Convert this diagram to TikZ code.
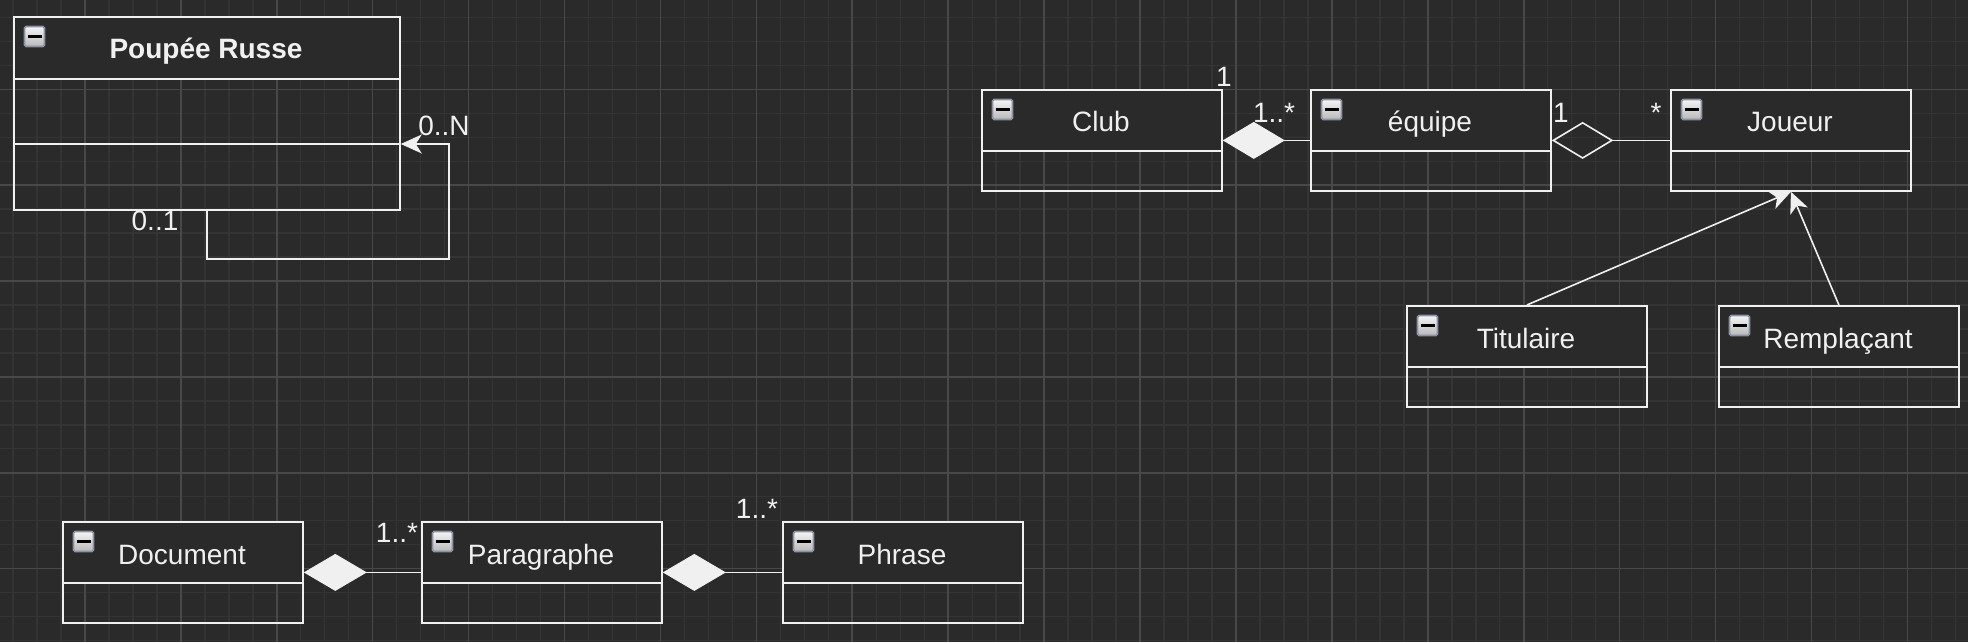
\documentclass[tikz,border=0pt]{standalone}
\usepackage{fontspec}
\setmainfont{Liberation Sans}
\usetikzlibrary{arrows.meta}
\definecolor{canvas}{HTML}{2A2A2A}
\definecolor{gridminor}{HTML}{343434}
\definecolor{gridmajor}{HTML}{484848}
\definecolor{ink}{HTML}{F0F0F0}
\definecolor{iconedge}{HTML}{8C92A6}
\tikzset{
    classbox/.style={draw=ink, line width=0.9pt, inner sep=0pt, anchor=north west},
    classtitle/.style={text=ink, anchor=base, inner sep=0pt, font=\fontsize{14pt}{16pt}\selectfont},
    collapse/.style={draw=iconedge, line width=0.8pt, rounded corners=0.8pt,
        top color=white!92!gray, bottom color=gray!55, minimum size=10pt, inner sep=0pt},
    mult/.style={text=ink, anchor=base, inner sep=0pt, font=\fontsize{14pt}{16pt}\selectfont},
    assoc/.style={draw=ink, line width=0.8pt},
    pics/uml class/.style n args={4}{
        code={
            \fill[canvas] (0,0) rectangle (#2,62.5);
            \node[classbox, minimum width=#2*0.5pt, minimum height=#3*0.5pt] (-box) at (0,0) {};
            \foreach \d in {#4}
                \draw[ink, line width=0.9pt] (0,\d) -- (#2,\d);
            \node[classtitle] (-title) at (#2/2,43) {#1};
            \node[collapse] (-icon) at (21.5,20.5) {\textcolor{black}{\rule[-0.75pt]{7pt}{1.5pt}}};
        }},
}

\begin{document}
\begin{tikzpicture}[x=0.5pt, y=-0.5pt]

    \def\gridw{1968}
    \def\gridh{642}

    \useasboundingbox (0,0) rectangle (\gridw,\gridh);
    \fill[canvas] (0,0) rectangle (\gridw,\gridh);

    \begin{scope}
        \clip (0,0) rectangle (\gridw,\gridh);
        \foreach \i in {-1,...,82}
            \draw[gridminor, line width=0.7pt] (13+23.98*\i,0) -- ++(0,\gridh);
        \foreach \j in {-1,...,27}
            \draw[gridminor, line width=0.7pt] (0,17.5+23.96*\j) -- ++(\gridw,0);
        \foreach \i in {-1,...,20}
            \draw[gridmajor, line width=0.8pt] (84.9+95.92*\i,0) -- ++(0,\gridh);
        \foreach \j in {-1,...,6}
            \draw[gridmajor, line width=0.8pt] (0,89.4+95.84*\j) -- ++(\gridw,0);
    \end{scope}

    \pic (poupee) at (13,16) {uml class={\bfseries Poupée Russe}{386}{193}{63,128}};

    \pic (club) at (981,89) {uml class={Club}{240}{101}{62}};
    \pic (equipe) at (1310,89) {uml class={équipe}{240}{101}{62}};
    \pic (joueur) at (1670,89) {uml class={Joueur}{240}{101}{62}};
    \pic (titulaire) at (1406,305) {uml class={Titulaire}{240}{101}{62}};
    \pic (remplacant) at (1718,305) {uml class={Remplaçant}{240}{101}{62}};

    \pic (document) at (62,521) {uml class={Document}{240}{101}{62}};
    \pic (paragraphe) at (421,521) {uml class={Paragraphe}{240}{101}{62}};
    \pic (phrase) at (782,521) {uml class={Phrase}{240}{101}{62}};

    \coordinate (poupee-in) at ([yshift=-64pt]poupee-box.north east);

    \begin{scope}[mult]
        \node (m-loop-n) at (444,135) {0..N};
        \node (m-loop-1) at (155,230.7) {0..1};
        \node (m-club) at (1224,86.7) {1};
        \node (m-equipe-in) at (1274,123) {1..*};
        \node (m-equipe-out) at (1561,122) {1};
        \node (m-joueur) at (1656,122) {*};
        \node (m-paragraphe) at (397,542.7) {1..*};
        \node (m-phrase) at (757,518.3) {1..*};
    \end{scope}

    \draw[assoc, -{Stealth[length=10.5pt, width=9.5pt, inset=3pt]}] (poupee-box.south) -- ++(0,48) -| ([xshift=24pt]poupee-in) -- (poupee-in);
    \draw[assoc, {Diamond[length=31pt, width=18.5pt]}-] (club-box.east) -- (equipe-box.west);
    \draw[assoc, {Diamond[open, length=30.8pt, width=18.5pt]}-] (equipe-box.east) -- (joueur-box.west);
    \draw[assoc, -{Stealth[length=10.5pt, width=9.5pt, inset=3pt]}] (titulaire-box.north) -- (joueur-box.south);
    \draw[assoc, -{Stealth[length=10.5pt, width=9.5pt, inset=3pt]}] (remplacant-box.north) -- (joueur-box.south);
    \draw[assoc, {Diamond[length=31.5pt, width=18.5pt]}-] (document-box.east) -- (paragraphe-box.west);
    \draw[assoc, {Diamond[length=31.5pt, width=18.5pt]}-] (paragraphe-box.east) -- (phrase-box.west);

\end{tikzpicture}
\end{document}
